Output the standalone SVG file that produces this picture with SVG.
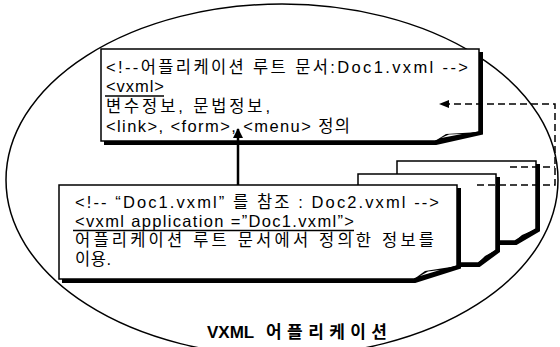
<svg xmlns="http://www.w3.org/2000/svg" width="560" height="347" viewBox="0 0 560 347">
<style>
.doc{fill:#fff;stroke:#000;stroke-width:1.5}
.sh{fill:none;stroke:#000;stroke-width:4;stroke-linejoin:miter}
.flap{fill:#000}
.hl{fill:#fff}
.t{font-family:"Liberation Sans","Noto Sans CJK KR",sans-serif;font-size:16.5px;fill:#000}
.ul{stroke:#000;stroke-width:1.5}
.dash{fill:none;stroke:#000;stroke-width:1.5;stroke-dasharray:7 4}
.lbl{font-family:"Liberation Sans","Noto Sans CJK KR",sans-serif;font-size:17px;font-weight:bold;fill:#000}
</style>
<defs>
<marker id="ah" viewBox="0 0 10 10" refX="9" refY="5" markerWidth="4" markerHeight="4" orient="auto" markerUnits="strokeWidth">
<path d="M0,0 L10,5 L0,10 Z" fill="#000"/>
</marker>
</defs>
<rect width="560" height="347" fill="#fff"/>
<g id="app-boundary">
<ellipse cx="282" cy="180" rx="276" ry="176" fill="none" stroke="#000" stroke-width="1.5"/>
<text class="lbl" x="207" y="338">VXML</text>
<text class="lbl" x="266" y="338" textLength="121" lengthAdjust="spacing">어플리케이션</text>
</g>
<g id="doc-back">
<path class="doc" d="M397,161 H536 V229 L515,241 H397 Z"/>
<path class="sh" d="M538,164 V230 L516,243 H400"/>
<path class="flap" d="M515,241 L522,235 L536,229 Z"/>
</g>
<g id="doc-middle">
<path class="doc" d="M358,174 H496 V250 L478,263 H358 Z"/>
<path class="sh" d="M498,177 V251 L479,265 H361"/>
<path class="flap" d="M478,263 L485,256 L496,250 Z"/>
</g>
<g id="doc2">
<path class="doc" d="M59,185 H457 V266 L414,279 H59 Z"/>
<path class="sh" d="M459,188 V267 L415,281 H62"/>
<path class="flap" d="M414,279 L425,271 L457,266 Z"/>
<path class="hl" d="M420,276 L428,271.5 L440,270 Z"/>
<text class="t" x="75" y="208" textLength="364" lengthAdjust="spacing">&lt;!-- “Doc1.vxml” 를 참조 : Doc2.vxml --&gt;</text>
<text class="t" x="75" y="227" textLength="279" lengthAdjust="spacing">&lt;vxml application =”Doc1.vxml”&gt;</text>
<line class="ul" x1="73" y1="230.5" x2="354" y2="230.5"/>
<text class="t" x="75" y="246" textLength="359" lengthAdjust="spacing">어플리케이션 루트 문서에서 정의한 정보를</text>
<text class="t" x="75" y="265" textLength="36" lengthAdjust="spacing">이용.</text>
</g>
<g id="doc1">
<path class="doc" d="M101,49 H479 V132 L435,141 H101 Z"/>
<path class="sh" d="M481,52 V133 L436,143 H104"/>
<path class="flap" d="M435,141 L446,134 L479,132 Z"/>
<path class="hl" d="M441,138 L449,134.5 L462,134 Z"/>
<text class="t" x="106" y="73" textLength="362" lengthAdjust="spacing">&lt;!--어플리케이션 루트 문서:Doc1.vxml --&gt;</text>
<text class="t" x="106" y="92" textLength="58" lengthAdjust="spacing">&lt;vxml&gt;</text>
<line class="ul" x1="105" y1="96" x2="164" y2="96"/>
<text class="t" x="106" y="112" textLength="164" lengthAdjust="spacing">변수정보, 문법정보,</text>
<text class="t" x="106" y="132" textLength="244" lengthAdjust="spacing">&lt;link&gt;, &lt;form&gt;, &lt;menu&gt; 정의</text>
</g>
<g id="connectors">
<line x1="238" y1="185" x2="238" y2="129" stroke="#000" stroke-width="2.5" marker-end="url(#ah)"/>
<path class="dash" d="M477,185 H555 V104 H446"/>
<path d="M439,104 L449,100 L449,108 Z" fill="#000"/>
<path class="dash" d="M510,167 H555"/>
</g>
</svg>
